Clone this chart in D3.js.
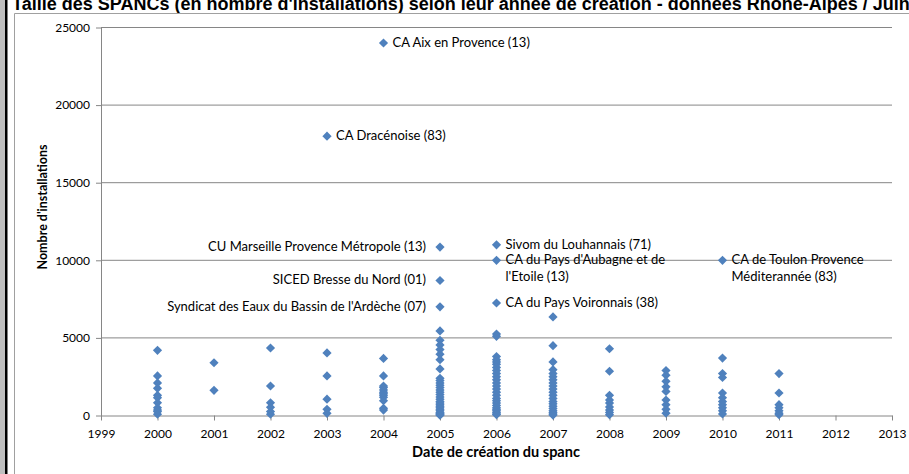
<!DOCTYPE html>
<html>
<head>
<meta charset="utf-8">
<script src="https://cdn.jsdelivr.net/npm/d3@7"></script>
<style>
  body { margin: 0; background: #fff; }
  svg { display: block; }
</style>
</head>
<body>
<div id="chart"></div>
<script>
// years of creation and the size (installations) of each spanc created that year
var years = [2000, 2001, 2002, 2003, 2004, 2005, 2006, 2007, 2008, 2009, 2010, 2011]
var values = [
    [4200, 2550, 2100, 1750, 1300, 1150, 820, 500, 350, 250, 80],
    [3400, 1620],
    [4350, 1900, 820, 530, 250, 80],
    [4030, 2550, 1050, 400, 140],
    [3680, 2550, 1900, 1800, 1650, 1500, 1400, 1300, 1170, 950, 460, 350],
    [5450, 4850, 4550, 4250, 3950, 3600, 3000, 2400, 2250, 2100, 1950, 1800, 1650, 1500, 1350, 1200, 1050, 900, 800, 700, 600, 500, 400, 300, 200, 150, 100, 50, 20],
    [5250, 5100, 3800, 3600, 3450, 3300, 3100, 2900, 2700, 2500, 2300, 2100, 1900, 1700, 1500, 1300, 1100, 950, 800, 650, 500, 400, 300, 200, 100, 50],
    [6350, 4500, 3450, 2950, 2700, 2500, 2300, 2100, 1900, 1700, 1500, 1300, 1100, 900, 750, 600, 450, 300, 200, 100, 30],
    [4300, 2850, 1300, 1000, 800, 550, 350, 200, 50],
    [2900, 2600, 2200, 1850, 1550, 1000, 700, 400, 150],
    [3700, 2700, 2450, 1450, 1150, 900, 700, 500, 300, 100],
    [2700, 1450, 700, 500, 300, 150, 50]
]
// the spancs that carry a name on the chart
var namedSpancs = ["CA Aix en Provence (13)", "CA Dracénoise (83)", "CU Marseille Provence Métropole (13)",
    "SICED Bresse du Nord (01)", "Syndicat des Eaux du Bassin de l'Ardèche (07)", "Sivom du Louhannais (71)",
    "CA du Pays d'Aubagne et de|l'Etoile (13)", "CA du Pays Voironnais (38)", "CA de Toulon Provence|Méditerannée (83)"]
var namedYears = [2004, 2003, 2005, 2005, 2005, 2006, 2006, 2006, 2010]
var namedValues = [24000, 18000, 10850, 8700, 7000, 11000, 10000, 7250, 10000]
var yTicks = [0, 5000, 10000, 15000, 20000, 25000]
var xTicks = [1999, 2000, 2001, 2002, 2003, 2004, 2005, 2006, 2007, 2008, 2009, 2010, 2011, 2012, 2013]

var title = "Taille des SPANCs (en nombre d'installations) selon leur année de création - données Rhone-Alpes / Juin 2012"
var xTitle = "Date de création du spanc"
var yTitle = "Nombre d'installations"

var width = 909, height = 474
var blue = "#4f81bd", gridColor = "#868686"
var labelFont = "Lato, 'Open Sans', sans-serif"

var svg = d3.select("#chart").append("svg").attr("width", width).attr("height", height)
svg.append("rect").attr("width", width).attr("height", height).attr("fill", "#fff")

svg.append("text")
    .attr("x", 12).attr("y", 10)
    .attr("font-family", "'Liberation Sans', Arial, sans-serif")
    .attr("font-size", 18).attr("font-weight", "bold")
    .text(title)

// chart frame
svg.append("path").attr("d", "M14.5,474V13.5H909").attr("fill", "none").attr("stroke", "#a0a0a0")
svg.append("rect").attr("x", 0).attr("y", 0).attr("width", 5).attr("height", height).attr("fill", "#bfbfbf")
svg.append("rect").attr("x", 5).attr("y", 0).attr("width", 2.5).attr("height", height).attr("fill", "#000")

var x = d3.scaleLinear().domain([1999, 2013]).range([101, 892])
var y = d3.scaleLinear().domain([0, 25000]).range([415.5, 27.5])

svg.append("g").selectAll("line")
    .data(yTicks.slice(1))
    .enter().append("line")
    .attr("x1", x(1999)).attr("x2", x(2013))
    .attr("y1", function(d){return y(d)}).attr("y2", function(d){return y(d)})
    .attr("stroke", gridColor).attr("stroke-width", 1)

var yAxis = svg.append("g").attr("transform", "translate(" + x(1999) + ",0)")
    .call(d3.axisLeft(y).tickValues(yTicks).tickSize(5).tickSizeOuter(0).tickPadding(6).tickFormat(d3.format("d")))
var xAxis = svg.append("g").attr("transform", "translate(0," + y(0) + ")")
    .call(d3.axisBottom(x).tickValues(xTicks).tickSize(5).tickSizeOuter(0).tickPadding(9).tickFormat(d3.format("d")))
svg.selectAll(".domain, .tick line").attr("stroke", gridColor)
svg.selectAll(".tick text").attr("font-family", labelFont).attr("font-size", 12).attr("fill", "#000")

svg.append("text")
    .attr("x", 496).attr("y", 457)
    .attr("text-anchor", "middle")
    .attr("font-family", labelFont).attr("font-size", 14.5).attr("font-weight", "bold")
    .text(xTitle)
svg.append("text")
    .attr("transform", "translate(47,207) rotate(-90)")
    .attr("text-anchor", "middle")
    .attr("font-family", labelFont).attr("font-size", 12.5).attr("font-weight", "bold")
    .text(yTitle)

// flatten to points
var points = []
for (var i in years) {
    for (var j in values[i]) {
        points.push({year: years[i], value: values[i][j]})
    }
}
for (var k in namedSpancs) {
    points.push({year: namedYears[k], value: namedValues[k]})
}

var diamond = "M0,-4.6L4.6,0L0,4.6L-4.6,0Z"
svg.append("g").selectAll("path")
    .data(points)
    .enter().append("path")
    .attr("d", diamond)
    .attr("transform", function(d){return "translate(" + x(d.year) + "," + y(d.value) + ")"})
    .attr("fill", blue)

// names next to the big ones
var labels = svg.append("g")
    .attr("font-family", labelFont).attr("font-size", 13).attr("fill", "#000")
for (var n in namedSpancs) {
    var onLeft = namedYears[n] == 2005
    var px = x(namedYears[n]), py = y(namedValues[n])
    var lx = onLeft ? px - 14 : px + 9
    var t = labels.append("text")
        .attr("x", lx)
        .attr("y", py + 4)
        .attr("text-anchor", onLeft ? "end" : "start")
    var lines = namedSpancs[n].split("|")
    lines.forEach(function(line, li) {
        t.append("tspan").attr("x", lx).attr("dy", li == 0 ? 0 : 17).text(line)
    })
}
</script>
</body>
</html>
